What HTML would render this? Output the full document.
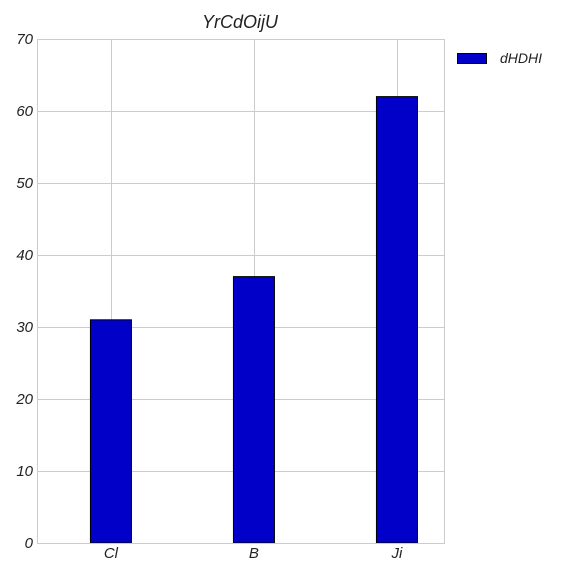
<!DOCTYPE html>
<html><head><meta charset="utf-8"><style>
body{margin:0;background:#fff;}
text{font-family:"Liberation Sans",sans-serif;font-style:italic;}
</style></head><body>
<svg id="chart" width="576" height="576" xmlns="http://www.w3.org/2000/svg">
<rect width="576" height="576" fill="#fff"/>
<g id="grid"></g><g id="bars"></g><g id="axes"></g>
<text x="240" y="28" text-anchor="middle" font-size="18" fill="#222">YrCdOijU</text>
<g>
<rect x="457.5" y="53.5" width="29" height="10" fill="#0000c8" stroke="#000" stroke-width="1"/>
<text x="500" y="63" font-size="14" fill="#222">dHDHI</text>
</g>
</svg>
<script>
const categories=["Cl","B","Ji"];
const values=[31,37,62];
const yTicks=[0,10,20,30,40,50,60,70];
const L=37,R=444,T=39,B=543,yMax=70,xMin=-0.517,xMax=2.329;
const ns="http://www.w3.org/2000/svg";
function y(v){return B-(v/yMax)*(B-T);}
function x(i){return L+(R-L)*(i-xMin)/(xMax-xMin);}
function mk(t,a,p){const e=document.createElementNS(ns,t);for(const k in a)e.setAttribute(k,a[k]);p.appendChild(e);return e;}
const grid=document.getElementById('grid'),bars=document.getElementById('bars'),axes=document.getElementById('axes');
yTicks.forEach(t=>{
 const g=mk('line',{x1:L,x2:R,y1:y(t)+0.5,y2:y(t)+0.5,stroke:'#cccccc','stroke-width':1},grid);
 
 
 const lb=mk('text',{x:L-4,y:y(t)+5,'text-anchor':'end','font-size':15,fill:'#222'},axes);
 lb.textContent=t;
 
 
});
categories.forEach((c,i)=>{
 const g=mk('line',{x1:Math.round(x(i))+0.5,x2:Math.round(x(i))+0.5,y1:T,y2:B,stroke:'#cccccc','stroke-width':1},grid);
 
 
 const w=41;
 const b=mk('rect',{x:x(i)-w/2,y:y(values[i]),width:w,height:B-y(values[i]),fill:'#0000c8',stroke:'#000','stroke-width':1},bars);
 
 
 const lb=mk('text',{x:x(i),y:B+15,'text-anchor':'middle','font-size':15,fill:'#222'},axes);
 lb.textContent=c;
 
 
});
const fr=mk('rect',{x:L+0.5,y:T+0.5,width:R-L,height:B-T,fill:'none',stroke:'#cccccc','stroke-width':1},axes);


</script>
</body></html>
